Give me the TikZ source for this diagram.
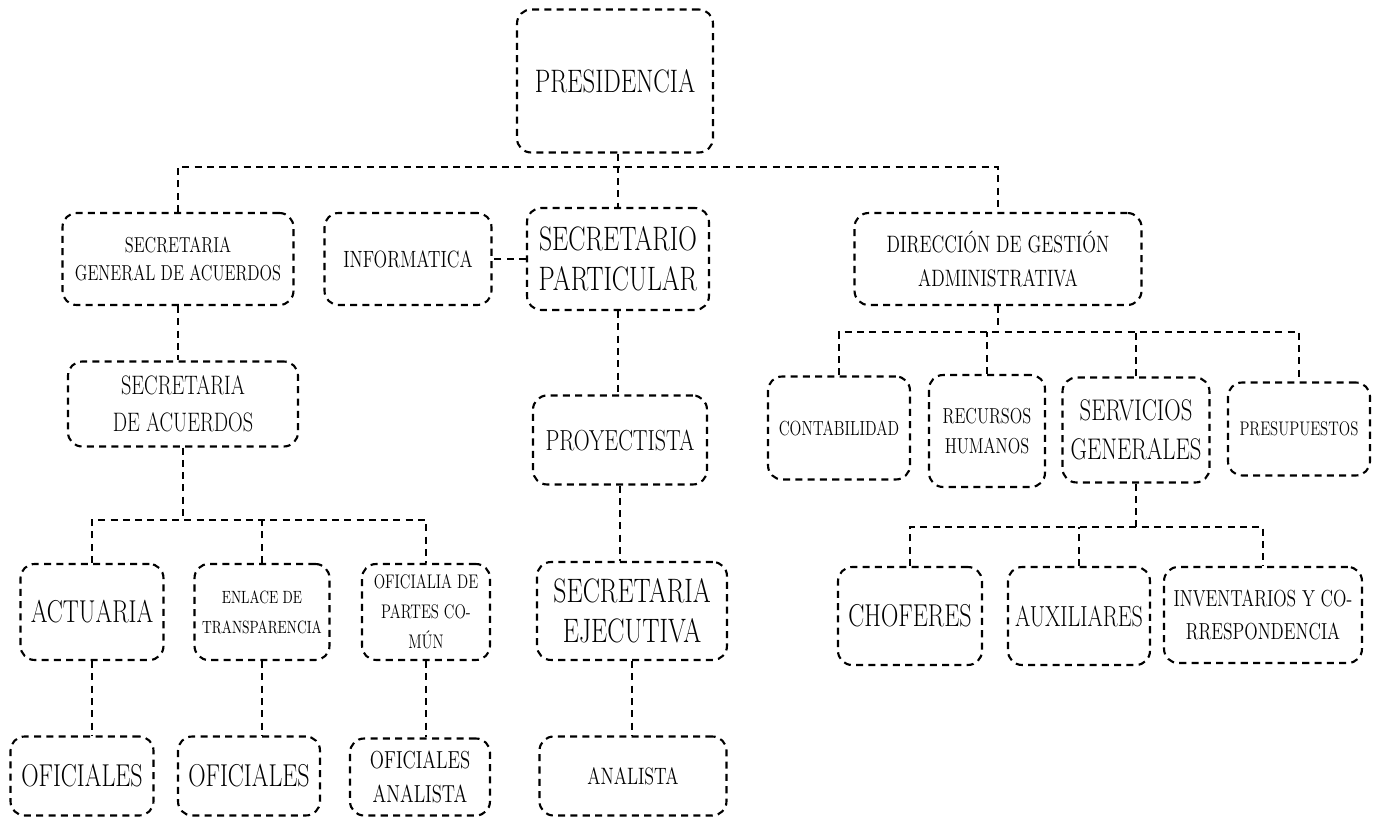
\documentclass[tikz,border=0pt]{standalone}
\usepackage{fontspec}
\setmainfont{Latin Modern Roman}[FakeStretch=0.76]
\usepackage{tikz}

\begin{document}
\begin{tikzpicture}[
    x=0.02cm, y=-0.02cm,
    unit/.style={rectangle, draw, line width=1.2pt, dash pattern=on 4pt off 3pt, rounded corners=8pt, inner sep=1pt, align=center},
    link/.style={line width=1.2pt, dash pattern=on 4pt off 3pt}
]

\path[use as bounding box] (0,0) rectangle (1380,817);

\node[unit, minimum width=3.92cm, minimum height=2.86cm, font=\fontsize{18.5}{22}\selectfont] (pres) at (615,81) {PRESIDENCIA};

\node[unit, minimum width=4.62cm, minimum height=1.84cm, font=\fontsize{12.3}{16}\selectfont] (sga) at (178,259) {SECRETARIA\\GENERAL DE ACUERDOS};
\node[unit, minimum width=3.34cm, minimum height=1.84cm, font=\fontsize{13.4}{16}\selectfont] (info) at (408,259) {INFORMATICA};
\node[unit, minimum width=3.64cm, minimum height=2.04cm, font=\fontsize{19.3}{23}\selectfont] (secp) at (618,259) {SECRETARIO\\PARTICULAR};
\node[unit, minimum width=5.74cm, minimum height=1.84cm, font=\fontsize{13.5}{19}\selectfont] (dga) at (998,259) {DIRECCIÓN DE GESTIÓN\\ADMINISTRATIVA};

\node[unit, minimum width=4.6cm, minimum height=1.7cm, font=\fontsize{15.2}{21}\selectfont] (sda) at (183,404) {SECRETARIA\\DE ACUERDOS};
\node[unit, minimum width=3.48cm, minimum height=1.78cm, font=\fontsize{16.5}{19}\selectfont] (proy) at (620,440) {PROYECTISTA};

\node[unit, minimum width=2.84cm, minimum height=2.06cm, font=\fontsize{11.6}{14}\selectfont] (cont) at (839,428) {CONTABILIDAD};
\node[unit, minimum width=2.32cm, minimum height=2.24cm, font=\fontsize{12.3}{17}\selectfont] (rrhh) at (987,431) {RECURSOS\\HUMANOS};
\node[unit, minimum width=2.94cm, minimum height=2.1cm, font=\fontsize{17}{22}\selectfont] (serv) at (1136,430) {SERVICIOS\\GENERALES};
\node[unit, minimum width=2.84cm, minimum height=1.86cm, font=\fontsize{11.2}{13}\selectfont] (presu) at (1299,429) {PRESUPUESTOS};

\node[unit, minimum width=2.86cm, minimum height=1.92cm, font=\fontsize{18}{22}\selectfont] (act) at (92,612) {ACTUARIA};
\node[unit, minimum width=2.7cm, minimum height=1.92cm, font=\fontsize{10.1}{17}\selectfont] (enl) at (262,612) {ENLACE DE\\TRANSPARENCIA};
\node[unit, minimum width=2.56cm, minimum height=1.92cm, font=\fontsize{11.2}{17}\selectfont] (ofp) at (426,612) {OFICIALIA DE\\PARTES CO-\\MÚN};
\node[unit, minimum width=3.8cm, minimum height=1.96cm, font=\fontsize{19.3}{23}\selectfont] (sej) at (632,611) {SECRETARIA\\EJECUTIVA};

\node[unit, minimum width=2.88cm, minimum height=1.96cm, font=\fontsize{18}{22}\selectfont] (chof) at (910,616) {CHOFERES};
\node[unit, minimum width=2.84cm, minimum height=1.96cm, font=\fontsize{16.5}{20}\selectfont] (aux) at (1079,616) {AUXILIARES};
\node[unit, minimum width=3.96cm, minimum height=1.92cm, font=\fontsize{13.2}{19}\selectfont] (inv) at (1263,615) {INVENTARIOS Y CO-\\RRESPONDENCIA};

\node[unit, minimum width=2.86cm, minimum height=1.58cm, font=\fontsize{18}{22}\selectfont] (of1) at (82,776) {OFICIALES};
\node[unit, minimum width=2.84cm, minimum height=1.58cm, font=\fontsize{18}{22}\selectfont] (of2) at (249,776) {OFICIALES};
\node[unit, minimum width=2.8cm, minimum height=1.54cm, font=\fontsize{14}{19}\selectfont] (ofa) at (420,777) {OFICIALES\\ANALISTA};
\node[unit, minimum width=3.74cm, minimum height=1.58cm, font=\fontsize{13.5}{16}\selectfont] (ana) at (633,776) {ANALISTA};

\coordinate (bus1) at (620,167);
\coordinate (bus2) at (1008,332);
\coordinate (bus3) at (1137,527);
\coordinate (bus4) at (180,520);

\draw[link] (secp.north |- pres.south) -- (secp.north);
\draw[link] (sga.north) |- (bus1) -| (dga.north);
\draw[link] (secp.west) -- (info.east);
\draw[link] (sga.south) -- (sga.south |- sda.north);
\draw[link] (secp.south) -- (secp.south |- proy.north);
\draw[link] (proy.south) -- (proy.south |- sej.north);
\draw[link] (sej.south) -- (sej.south |- ana.north);

\draw[link] (sda.south) -- (sda.south |- bus4);
\draw[link] (act.north) |- (bus4) -| (ofp.north);
\draw[link] (enl.north) -- (enl.north |- bus4);
\draw[link] (act.south) -- (act.south |- of1.north);
\draw[link] (enl.south) -- (enl.south |- of2.north);
\draw[link] (ofp.south) -- (ofp.south |- ofa.north);

\draw[link] (dga.south) -- (dga.south |- bus2);
\draw[link] (cont.north) |- (bus2) -| (presu.north);
\draw[link] (rrhh.north) -- (rrhh.north |- bus2);
\draw[link] (serv.north) -- (serv.north |- bus2);

\draw[link] (serv.south) -- (serv.south |- bus3);
\draw[link] (chof.north) |- (bus3) -| (inv.north);
\draw[link] (aux.north) -- (aux.north |- bus3);

\end{tikzpicture}
\end{document}
